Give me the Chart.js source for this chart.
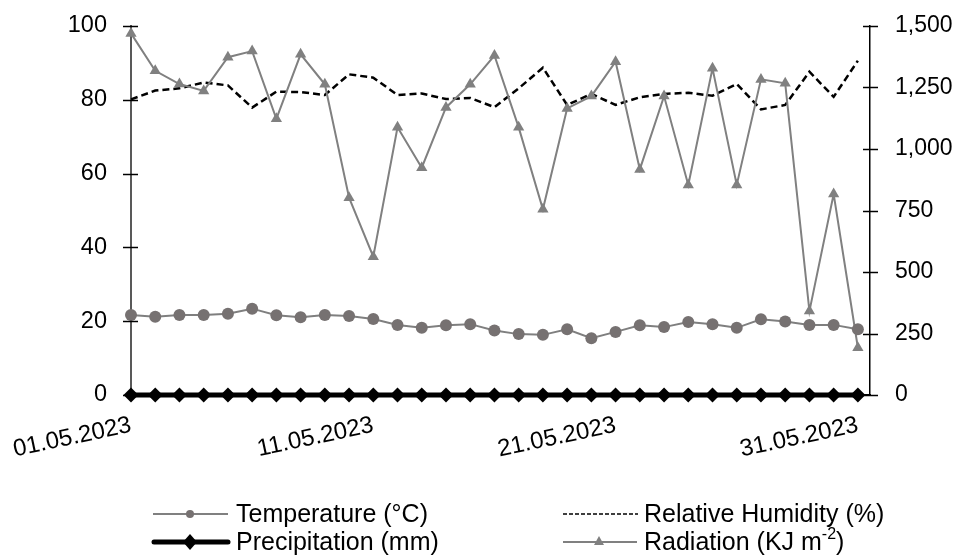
<!DOCTYPE html>
<html>
<head>
<meta charset="utf-8">
<script src="https://cdn.jsdelivr.net/npm/chart.js@4.4.1/dist/chart.umd.min.js"></script>
<style>
  html, body { margin: 0; padding: 0; background: #ffffff; }
  #wrap { width: 957px; height: 560px; position: relative; }
</style>
</head>
<body>
<div id="wrap"><canvas id="c" width="957" height="560"></canvas></div>
<script>
const dates = ['01.05.2023','02.05.2023','03.05.2023','04.05.2023','05.05.2023','06.05.2023','07.05.2023','08.05.2023','09.05.2023','10.05.2023',
  '11.05.2023','12.05.2023','13.05.2023','14.05.2023','15.05.2023','16.05.2023','17.05.2023','18.05.2023','19.05.2023','20.05.2023',
  '21.05.2023','22.05.2023','23.05.2023','24.05.2023','25.05.2023','26.05.2023','27.05.2023','28.05.2023','29.05.2023','30.05.2023','31.05.2023'];
const tickDates = ['01.05.2023','11.05.2023','21.05.2023','31.05.2023'];
const temperature = [21.7,21.2,21.7,21.7,22.0,23.4,21.6,21.1,21.7,21.4,20.6,19.0,18.2,18.9,19.2,17.5,16.5,16.3,17.8,15.4,17.1,18.9,18.4,19.8,19.2,18.2,20.5,19.9,19.0,19.0,17.8];
const humidity = [80.1,82.5,83.1,84.7,83.9,77.9,82.2,82.1,81.3,86.9,86.0,81.3,81.7,80.2,80.5,78.0,83.1,88.7,78.6,81.6,78.6,80.7,81.6,81.9,81.1,84.3,77.4,78.6,87.6,80.8,90.6];
const precipitation = [0,0,0,0,0,0,0,0,0,0,0,0,0,0,0,0,0,0,0,0,0,0,0,0,0,0,0,0,0,0,0];
const radiation = [1470,1318,1264,1236,1373,1398,1123,1385,1263,802,562,1088,924,1169,1263,1380,1088,755,1165,1215,1355,917,1215,854,1328,854,1283,1267,341,817,192];
const leftTicks = [0,20,40,60,80,100];
const rightTicks = [0,250,500,750,1000,1250,1500];

const FONT = '"Liberation Sans", Arial, sans-serif';
const toPts = arr => arr.map((v, i) => ({ x: i, y: v }));

const tickMarks = {
  id: 'tickMarks',
  afterDraw(chart) {
    const ctx = chart.ctx;
    const y = chart.scales.y, y1 = chart.scales.y1;
    ctx.save();
    ctx.strokeStyle = '#000';
    ctx.lineWidth = 1.5;
    leftTicks.forEach(v => {
      const p = Math.round(y.getPixelForValue(v)) + 0.5;
      ctx.beginPath(); ctx.moveTo(y.right - 8, p); ctx.lineTo(y.right + 7, p); ctx.stroke();
    });
    rightTicks.forEach(v => {
      const p = Math.round(y1.getPixelForValue(v)) + 0.5;
      ctx.beginPath(); ctx.moveTo(y1.left - 7, p); ctx.lineTo(y1.left + 8, p); ctx.stroke();
    });
    ctx.restore();
  }
};

const customLegend = {
  id: 'customLegend',
  afterDraw(chart) {
    const ctx = chart.ctx;
    ctx.save();
    ctx.font = '25px ' + FONT;
    ctx.textBaseline = 'middle';
    ctx.fillStyle = '#000';
    const r1 = 514, r2 = 542;
    // Temperature
    ctx.strokeStyle = '#808080'; ctx.lineWidth = 2;
    ctx.beginPath(); ctx.moveTo(153, r1); ctx.lineTo(228, r1); ctx.stroke();
    ctx.fillStyle = '#767171';
    ctx.beginPath(); ctx.arc(190, r1, 4, 0, Math.PI * 2); ctx.fill();
    ctx.fillStyle = '#000';
    ctx.fillText('Temperature (°C)', 236, r1 + 1);
    // Precipitation
    ctx.strokeStyle = '#000'; ctx.lineWidth = 5; ctx.lineCap = 'round';
    ctx.beginPath(); ctx.moveTo(154, r2); ctx.lineTo(228, r2); ctx.stroke();
    ctx.lineCap = 'butt';
    ctx.beginPath(); ctx.moveTo(190, r2 - 8); ctx.lineTo(197, r2); ctx.lineTo(190, r2 + 8); ctx.lineTo(183, r2); ctx.closePath(); ctx.fill();
    ctx.fillText('Precipitation (mm)', 236, r2 + 1);
    // Relative humidity
    ctx.strokeStyle = '#000'; ctx.lineWidth = 1.5; ctx.setLineDash([4, 2]);
    ctx.beginPath(); ctx.moveTo(563, r1); ctx.lineTo(638, r1); ctx.stroke();
    ctx.setLineDash([]);
    ctx.fillText('Relative Humidity (%)', 644, r1 + 1);
    // Radiation
    ctx.strokeStyle = '#808080'; ctx.lineWidth = 2;
    ctx.beginPath(); ctx.moveTo(563, r2); ctx.lineTo(637, r2); ctx.stroke();
    ctx.fillStyle = '#808080';
    ctx.beginPath(); ctx.moveTo(599, r2 - 6); ctx.lineTo(604, r2 + 3); ctx.lineTo(594, r2 + 3); ctx.closePath(); ctx.fill();
    ctx.fillStyle = '#000';
    let x = 644;
    const t1 = 'Radiation (KJ m';
    ctx.fillText(t1, x, r2 + 1); x += ctx.measureText(t1).width;
    ctx.font = '16px ' + FONT;
    ctx.fillText('-2', x, r2 - 7); x += ctx.measureText('-2').width;
    ctx.font = '25px ' + FONT;
    ctx.fillText(')', x, r2 + 1);
    ctx.restore();
  }
};

const fixVPad = w => s => { s.width = w; s.paddingTop = 12; s.paddingBottom = 12; };

new Chart(document.getElementById('c'), {
  type: 'line',
  data: {
    datasets: [
      { label: 'Precipitation (mm)', data: toPts(precipitation), yAxisID: 'y', borderColor: '#000', backgroundColor: '#000',
        borderWidth: 5, pointStyle: 'rectRot', pointRadius: 7.5, pointBorderWidth: 0, tension: 0, clip: false, order: 0 },
      { label: 'Temperature (°C)', data: toPts(temperature), yAxisID: 'y', borderColor: '#7f7f7f', backgroundColor: '#767171',
        borderWidth: 2, pointStyle: 'circle', pointRadius: 6, pointBorderWidth: 0, tension: 0, clip: false, order: 1 },
      { label: 'Radiation (KJ m-2)', data: toPts(radiation), yAxisID: 'y1', borderColor: '#808080', backgroundColor: '#808080',
        borderWidth: 2, pointStyle: 'triangle', pointRadius: 6.5, pointBorderWidth: 0, tension: 0, clip: false, order: 2 },
      { label: 'Relative Humidity (%)', data: toPts(humidity), yAxisID: 'y', borderColor: '#000', backgroundColor: '#000',
        borderWidth: 2.5, borderDash: [7, 4], pointRadius: 0, tension: 0, clip: false, order: 3 }
    ]
  },
  options: {
    responsive: false,
    animation: false,
    layout: { padding: { top: 26, left: 0, right: 0, bottom: 0 } },
    plugins: { legend: { display: false }, tooltip: { enabled: false } },
    scales: {
      x: {
        type: 'linear', min: 0, max: 30.5,
        afterBuildTicks: s => { s.ticks = tickDates.map(d => ({ value: dates.indexOf(d) })); },
        afterFit: s => { s.height = 165; s.paddingLeft = 0; s.paddingRight = 0; },
        grid: { display: false, drawTicks: false },
        border: { display: true, color: '#000', width: 1.5 },
        ticks: { autoSkip: false, minRotation: 12, maxRotation: 12, padding: 16, color: '#000',
          font: { family: FONT, size: 24 }, callback: v => dates[v] }
      },
      y: {
        position: 'left', min: 0, max: 100,
        afterBuildTicks: s => { s.ticks = leftTicks.map(v => ({ value: v })); },
        afterFit: fixVPad(131),
        grid: { display: false, drawTicks: false },
        border: { display: true, color: '#595959', width: 2 },
        ticks: { padding: 24, color: '#000', font: { family: FONT, size: 23.5 } }
      },
      y1: {
        position: 'right', min: 0, max: 1500,
        afterBuildTicks: s => { s.ticks = rightTicks.map(v => ({ value: v })); },
        afterFit: fixVPad(87),
        grid: { display: false, drawTicks: false },
        border: { display: true, color: '#000', width: 1.5 },
        ticks: { padding: 25, color: '#000', font: { family: FONT, size: 23 },
          callback: v => v.toLocaleString('en-US') }
      }
    }
  },
  plugins: [tickMarks, customLegend]
});
</script>
</body>
</html>
